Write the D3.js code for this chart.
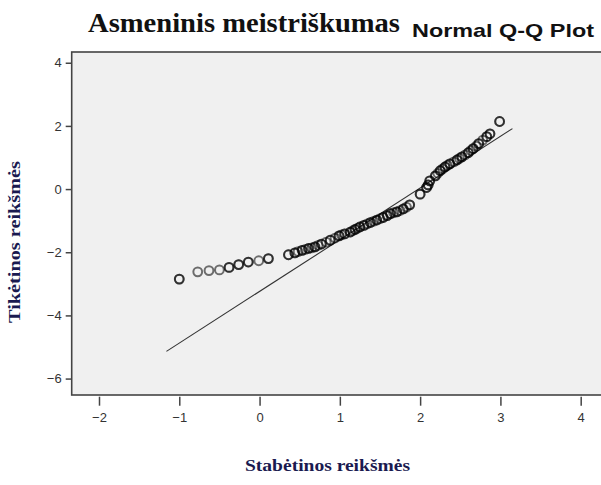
<!DOCTYPE html>
<html>
<head>
<meta charset="utf-8">
<script src="https://cdn.jsdelivr.net/npm/d3@7"></script>
<style>
  html, body { margin: 0; padding: 0; background: #fff; }
  svg { display: block; }
</style>
</head>
<body>
<svg id="chart" width="601" height="485"></svg>
<script>
// Observed values (x) and expected normal values (y)
const observedValues = [-1.00, -0.77, -0.63, -0.50, -0.38, -0.26, -0.14, -0.01, 0.11,
  0.36, 0.44, 0.48, 0.53, 0.57, 0.61, 0.65, 0.69, 0.73, 0.77, 0.83, 0.88, 0.94, 0.99, 1.02, 1.06,
  1.13, 1.16, 1.19, 1.22, 1.25, 1.30, 1.34, 1.38, 1.42, 1.46, 1.50, 1.54, 1.59, 1.63, 1.67, 1.71,
  1.75, 1.79, 1.83, 1.87, 2.00, 2.08, 2.10, 2.12, 2.19, 2.22, 2.25, 2.28, 2.31, 2.34, 2.37, 2.42,
  2.46, 2.49, 2.52, 2.56, 2.60, 2.63, 2.66, 2.70, 2.73, 2.78, 2.83, 2.87, 2.99];
const expectedValues = [-2.85, -2.62, -2.58, -2.56, -2.48, -2.39, -2.31, -2.27, -2.20,
  -2.08, -2.02, -1.98, -1.94, -1.91, -1.88, -1.86, -1.83, -1.78, -1.74, -1.68, -1.62, -1.55, -1.48, -1.45, -1.42,
  -1.36, -1.32, -1.28, -1.24, -1.20, -1.15, -1.10, -1.06, -1.02, -0.98, -0.94, -0.90, -0.84, -0.78, -0.75, -0.72,
  -0.68, -0.63, -0.57, -0.50, -0.16, 0.05, 0.13, 0.26, 0.42, 0.50, 0.58, 0.64, 0.70, 0.75, 0.80, 0.86,
  0.92, 0.97, 1.02, 1.08, 1.15, 1.22, 1.28, 1.36, 1.44, 1.55, 1.66, 1.75, 2.14];
// number of tied cases drawn at each point
const tieCounts = [2, 1, 1, 1, 2, 2, 2, 1, 2,
  2, 2, 1, 2, 1, 2, 1, 2, 1, 2, 1, 2, 1, 2, 1, 2,
  2, 1, 2, 1, 2, 2, 1, 2, 1, 2, 1, 2, 2, 2, 1, 2,
  1, 2, 1, 2, 2, 2, 2, 2, 2, 1, 2, 1, 2, 1, 2, 1,
  2, 1, 2, 1, 2, 1, 2, 1, 2, 1, 2, 2, 2];
// Reference line: expected = (x - mean) / sd
const lineMean = 1.98, lineSd = 0.611;
const lineXRange = [-1.16, 3.15];
const xTicks = [-2, -1, 0, 1, 2, 3, 4];
const yTicks = [4, 2, 0, -2, -4, -6];
const titleMain = "Asmeninis meistriškumas";
const titleSub = "Normal Q-Q Plot";
const xTitle = "Stabėtinos reikšmės";
const yTitle = "Tikėtinos reikšmės";

const svg = d3.select("#chart");
const frame = { left: 71.7, top: 52, right: 612, bottom: 395 };

const x = d3.scaleLinear().domain([-2.34, 4.39]).range([frame.left, frame.right]);
const y = d3.scaleLinear().domain([-6.52, 4.34]).range([frame.bottom, frame.top]);

// plot background & frame
svg.append("rect")
  .attr("x", frame.left).attr("y", frame.top)
  .attr("width", frame.right - frame.left).attr("height", frame.bottom - frame.top)
  .attr("fill", "#f0f0f0").attr("stroke", "#444").attr("stroke-width", 1.6);

// reference line
svg.append("line")
  .attr("x1", x(lineXRange[0])).attr("y1", y((lineXRange[0] - lineMean) / lineSd))
  .attr("x2", x(lineXRange[1])).attr("y2", y((lineXRange[1] - lineMean) / lineSd))
  .attr("stroke", "#333").attr("stroke-width", 1.1);

// points (ties drawn on top of each other)
const pts = [];
observedValues.forEach((v, i) => {
  for (let k = 0; k < tieCounts[i]; k++) pts.push({ x: v, y: expectedValues[i] });
});
svg.append("g").selectAll("circle").data(pts).join("circle")
  .attr("cx", d => x(d.x)).attr("cy", d => y(d.y)).attr("r", 4.4)
  .attr("fill", "none").attr("stroke", "#000").attr("stroke-width", 2)
  .attr("stroke-opacity", 0.55);

// axes
const xAxis = svg.append("g").attr("transform", `translate(0,${frame.bottom + 1.7})`)
  .call(d3.axisBottom(x).tickValues(xTicks).tickSize(9).tickPadding(7).tickFormat(d3.format("d")));
const yAxis = svg.append("g").attr("transform", `translate(${frame.left},0)`)
  .call(d3.axisLeft(y).tickValues(yTicks).tickSize(6).tickPadding(4).tickFormat(d3.format("d")));
[xAxis, yAxis].forEach(a => {
  a.select(".domain").remove();
  a.selectAll(".tick line").attr("stroke", "#444").attr("stroke-width", 1.5);
  a.selectAll(".tick text").attr("fill", "#333")
    .style("font-family", "'Liberation Sans', Arial, sans-serif").style("font-size", "13px");
});

// titles
svg.append("text").attr("x", 88).attr("y", 32)
  .attr("textLength", 312).attr("lengthAdjust", "spacingAndGlyphs")
  .style("font-family", "'Liberation Serif', 'Times New Roman', serif")
  .style("font-weight", "bold").style("font-size", "28px").attr("fill", "#111")
  .text(titleMain);
svg.append("text").attr("x", 412).attr("y", 37)
  .attr("textLength", 182).attr("lengthAdjust", "spacingAndGlyphs")
  .style("font-family", "'Liberation Sans', Arial, sans-serif")
  .style("font-weight", "bold").style("font-size", "19px").attr("fill", "#111")
  .text(titleSub);

svg.append("text").attr("x", 245).attr("y", 471)
  .attr("textLength", 165).attr("lengthAdjust", "spacingAndGlyphs")
  .style("font-family", "'Liberation Serif', 'Times New Roman', serif")
  .style("font-weight", "bold").style("font-size", "16px").attr("fill", "#1a1a50")
  .text(xTitle);
svg.append("text")
  .attr("transform", `translate(20,323) rotate(-90)`)
  .attr("textLength", 162).attr("lengthAdjust", "spacingAndGlyphs")
  .style("font-family", "'Liberation Serif', 'Times New Roman', serif")
  .style("font-weight", "bold").style("font-size", "16px").attr("fill", "#1a1a50")
  .text(yTitle);
</script>
</body>
</html>
